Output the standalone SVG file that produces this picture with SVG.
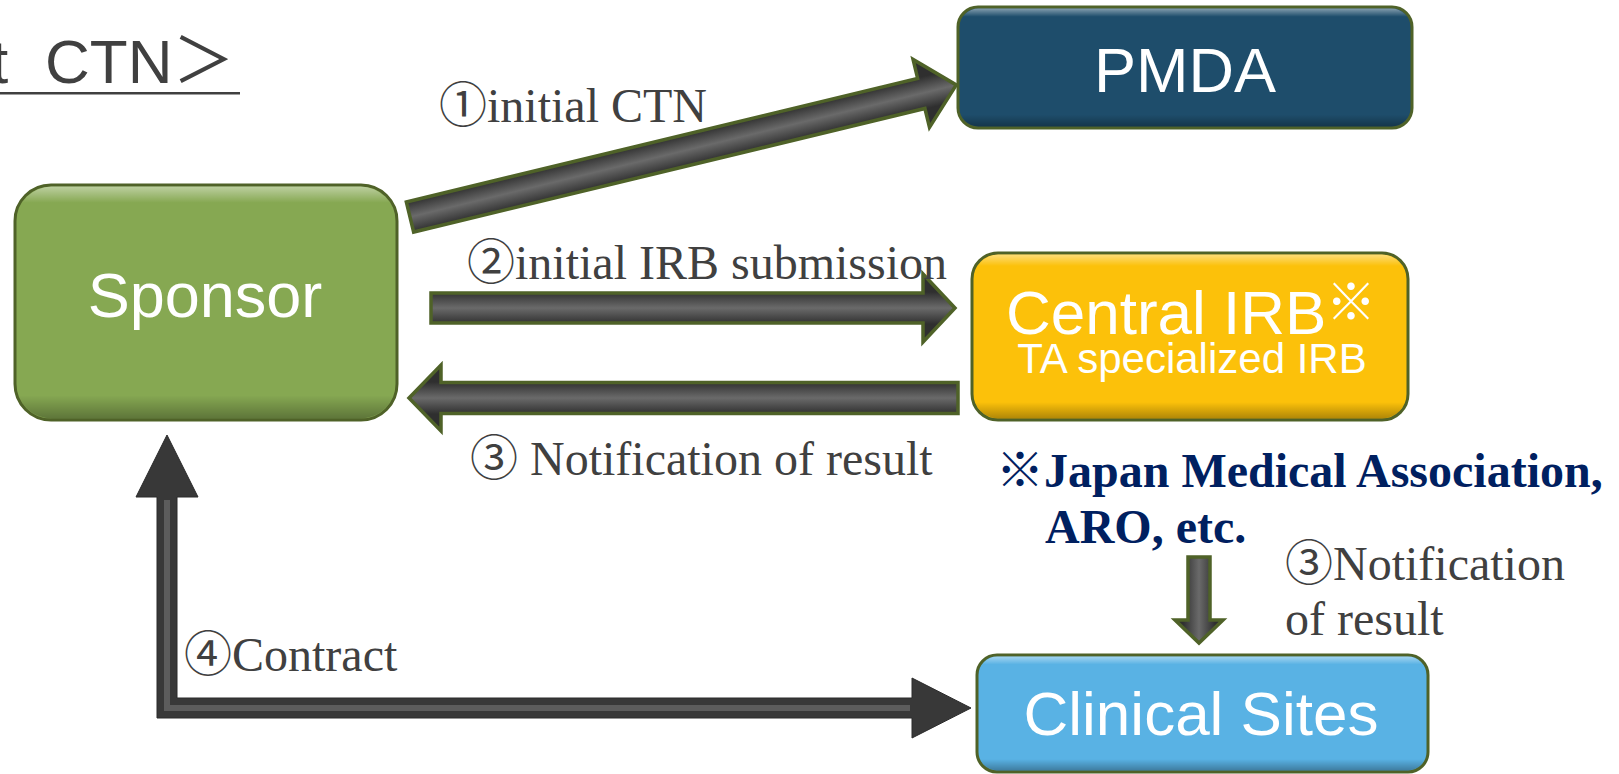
<svg xmlns="http://www.w3.org/2000/svg" width="1619" height="774" viewBox="0 0 1619 774">
<style>
.box{stroke:#4F6228;stroke-width:3}
.bev{fill:url(#bevel);stroke:none}
.ntext{font-family:"Liberation Sans",Arial,sans-serif;fill:#ffffff}
.lbl{font-family:"Liberation Serif","Noto Sans CJK JP",serif;font-size:48px;fill:#404040}
.note{font-family:"Liberation Serif","Noto Sans CJK JP",serif;font-size:48px;font-weight:bold;fill:#002060}
.arr{fill:url(#shaft);stroke:#4F6228;stroke-width:3.5;stroke-linejoin:miter}
.title{font-family:"Liberation Sans","Noto Sans CJK JP",sans-serif;font-size:62px;fill:#404040}
</style>
<defs>
<linearGradient id="bevel" x1="0" y1="0" x2="0" y2="1">
<stop offset="0" stop-color="#ffffff" stop-opacity="0.45"/>
<stop offset="0.07" stop-color="#ffffff" stop-opacity="0"/>
<stop offset="0.9" stop-color="#000000" stop-opacity="0"/>
<stop offset="1" stop-color="#000000" stop-opacity="0.3"/>
</linearGradient>
<linearGradient id="shaft" gradientUnits="userSpaceOnUse" x1="0" y1="-16" x2="0" y2="16">
<stop offset="0" stop-color="#2f2f2f"/>
<stop offset="0.5" stop-color="#6a6a6a"/>
<stop offset="1" stop-color="#2f2f2f"/>
</linearGradient>
</defs>

<g id="title">
<text class="title" y="83"><tspan x="-9">t</tspan><tspan x="45">CTN＞</tspan></text>
<rect x="0" y="92" width="240" height="2.5" fill="#404040"/>
</g>

<g id="connectors">
<g id="arrow-ctn">
<path class="arr" transform="translate(410,217) rotate(-13.59)" d="M0,-15.5 L526,-15.5 L526,-35 L562,0 L526,35 L526,15.5 L0,15.5 Z"/>
<text class="lbl" x="439" y="122">①initial CTN</text>
</g>
<g id="arrow-irb-sub">
<path class="arr" transform="translate(431,308)" d="M0,-15 L492,-15 L492,-34 L524,0 L492,34 L492,15 L0,15 Z"/>
<text class="lbl" x="467" y="279">②initial IRB submission</text>
</g>
<g id="arrow-irb-result">
<path class="arr" transform="translate(958,398) rotate(180)" d="M0,-15.5 L517,-15.5 L517,-33 L549,0 L517,33 L517,15.5 L0,15.5 Z"/>
<text class="lbl" x="470" y="475">③ Notification of result</text>
</g>
<g id="arrow-site-result">
<path class="arr" transform="translate(1199,557) rotate(90)" d="M0,-11 L63,-11 L63,-24 L86,0 L63,24 L63,11 L0,11 Z"/>
<text class="lbl" x="1285" y="580">③Notification</text>
<text class="lbl" x="1285" y="635">of result</text>
</g>
<g id="arrow-contract">
<path d="M157,497 L136,497 L167,435 L198,497 L177,497 L177,698 L912,698 L912,678 L971,708 L912,738 L912,718 L157,718 Z" fill="#383838" stroke="#2a2a2a" stroke-width="1"/>
<polyline points="167,500 167,708 910,708" fill="none" stroke="#5c5c5c" stroke-width="6"/>
<text class="lbl" x="184" y="671">④Contract</text>
</g>
</g>

<g id="sponsor">
<rect class="box" x="15" y="185" width="382" height="235" rx="36" fill="#86A852"/>
<rect class="bev" x="16.5" y="186.5" width="379" height="232" rx="35"/>
<text class="ntext" x="205" y="317" font-size="63" text-anchor="middle">Sponsor</text>
</g>

<g id="pmda">
<rect class="box" x="958" y="7" width="454" height="121" rx="20" fill="#1E4D6B"/>
<rect class="bev" x="959.5" y="8.5" width="451" height="118" rx="19"/>
<text class="ntext" x="1185" y="92" font-size="63" text-anchor="middle">PMDA</text>
</g>

<g id="central-irb">
<rect class="box" x="972" y="253" width="436" height="167" rx="26" fill="#FCC10A"/>
<rect class="bev" x="973.5" y="254.5" width="433" height="164" rx="25"/>
<text class="ntext" x="1006" y="334" font-size="62">Central IRB</text>
<text x="1326" y="320" font-size="50" fill="#ffffff" font-family="'Noto Sans CJK JP',sans-serif">※</text>
<text class="ntext" x="1192" y="373" font-size="42" text-anchor="middle">TA specialized IRB</text>
</g>

<g id="clinical-sites">
<rect class="box" x="977" y="655" width="451" height="117" rx="20" fill="#59B2E4"/>
<rect class="bev" x="978.5" y="656.5" width="448" height="114" rx="19"/>
<text class="ntext" x="1201" y="735" font-size="62" text-anchor="middle">Clinical Sites</text>
</g>

<g id="irb-note">
<text class="note" x="996" y="487">※Japan Medical Association,</text>
<text class="note" x="1045" y="543">ARO, etc.</text>
</g>
</svg>
